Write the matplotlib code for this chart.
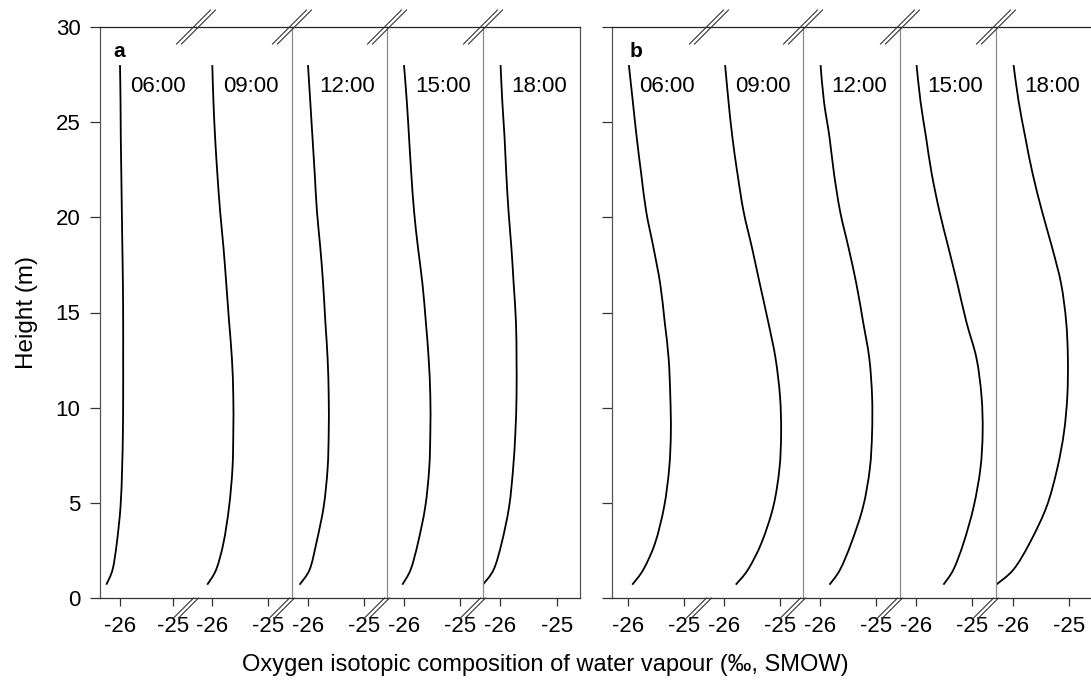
import matplotlib
matplotlib.use("Agg")
import matplotlib.pyplot as plt
import numpy as np
from matplotlib.lines import Line2D
from matplotlib.path import Path
from matplotlib.patches import PathPatch
from matplotlib.transforms import blended_transform_factory

plt.rcParams["font.family"] = ["Liberation Sans", "DejaVu Sans"]
plt.rcParams["axes.unicode_minus"] = False

# Heights (m) of the profile points
heights = [0.7, 1.5, 2.9, 4.8, 6.8, 8.7, 10.6, 12.6, 14.5, 16.5, 18.4, 20.3, 22.3, 24.2, 26.1, 28.0]
times = ["06:00", "09:00", "12:00", "15:00", "18:00"]

# Panel a: delta18O of vapour (permil) per time of day
a_0600 = [-26.26, -26.14, -26.06, -25.99, -25.96, -25.945, -25.94, -25.94, -25.94, -25.945, -25.955, -25.965, -25.975, -25.985, -25.99, -26.00]
a_0900 = [-26.09, -25.93, -25.80, -25.70, -25.64, -25.625, -25.625, -25.65, -25.70, -25.75, -25.80, -25.86, -25.91, -25.95, -25.98, -26.00]
a_1200 = [-26.15, -25.97, -25.85, -25.72, -25.65, -25.63, -25.63, -25.65, -25.69, -25.73, -25.78, -25.84, -25.88, -25.92, -25.96, -26.00]
a_1500 = [-26.03, -25.88, -25.75, -25.62, -25.55, -25.53, -25.53, -25.56, -25.61, -25.67, -25.75, -25.82, -25.87, -25.91, -25.95, -26.00]
a_1800 = [-26.30, -26.11, -25.97, -25.84, -25.77, -25.73, -25.71, -25.71, -25.72, -25.76, -25.80, -25.85, -25.89, -25.92, -25.96, -25.99]

# Panel b
b_0600 = [-25.93, -25.73, -25.52, -25.36, -25.27, -25.24, -25.25, -25.28, -25.35, -25.43, -25.55, -25.68, -25.77, -25.85, -25.92, -25.99]
b_0900 = [-25.79, -25.57, -25.33, -25.12, -25.01, -24.98, -25.00, -25.08, -25.21, -25.36, -25.50, -25.65, -25.76, -25.85, -25.92, -25.98]
b_1200 = [-25.83, -25.64, -25.44, -25.23, -25.11, -25.07, -25.07, -25.12, -25.23, -25.35, -25.49, -25.64, -25.75, -25.83, -25.93, -25.99]
b_1500 = [-25.51, -25.33, -25.15, -24.97, -24.85, -24.81, -24.83, -24.92, -25.10, -25.26, -25.42, -25.58, -25.72, -25.82, -25.92, -25.99]
b_1800 = [-26.30, -25.99, -25.70, -25.40, -25.21, -25.09, -25.03, -25.02, -25.05, -25.14, -25.30, -25.48, -25.65, -25.78, -25.90, -25.99]

panels = [
    ("a", [a_0600, a_0900, a_1200, a_1500, a_1800]),
    ("b", [b_0600, b_0900, b_1200, b_1500, b_1800]),
]

W, H = 1091, 691
fig = plt.figure(figsize=(W / 100, H / 100), dpi=100)

# pixel layout of each panel: sub-axes edges and where the -26 / -25 ticks sit
edges = {
    "a": [100, 196, 292, 387, 483, 580],
    "b": [612, 709, 803, 900, 996, 1092],
}
tick26 = {
    "a": [120.0, 212.3, 308.0, 404.0, 500.0],
    "b": [628.3, 724.0, 820.0, 916.0, 1013.0],
}
tick25 = {
    "a": [172.7, 268.3, 364.0, 460.0, 557.0],
    "b": [684.3, 780.0, 876.0, 972.0, 1069.0],
}
letter_x = {"a": 0.14, "b": 0.18}
top_px, bot_px = 27, 598

frame_col = "#555555"
inner_col = "#8a8a8a"


def fx(px):
    return px / W


def fy(py):
    return 1 - py / H


def smooth_profile(xs, ys):
    # smooth line through the points (Catmull-Rom segments as cubic Beziers)
    p = np.column_stack([xs, ys])
    verts, codes = [p[0]], [Path.MOVETO]
    n = len(p)
    for i in range(n - 1):
        p0 = p[i - 1] if i > 0 else p[i]
        p3 = p[i + 2] if i + 2 < n else p[i + 1]
        verts += [p[i] + (p[i + 1] - p0) / 6, p[i + 1] - (p3 - p[i]) / 6, p[i + 1]]
        codes += [Path.CURVE4] * 3
    return Path(verts, codes)


for name, series in panels:
    e = edges[name]
    for i in range(5):
        l, r = e[i], e[i + 1]
        ax = fig.add_axes([fx(l), fy(bot_px), (r - l) / W, (bot_px - top_px) / H])
        k = tick25[name][i] - tick26[name][i]
        ax.set_xlim(-26 + (l - tick26[name][i]) / k, -26 + (r - tick26[name][i]) / k)
        ax.set_ylim(0, 30)
        ax.patch.set_alpha(0)

        ax.add_patch(PathPatch(smooth_profile(series[i], heights), facecolor="none",
                               edgecolor="black", lw=1.3, capstyle="butt"))
        ax.text(-25.8, 26.6, times[i], ha="left", va="baseline", fontsize=16)

        for s in ax.spines.values():
            s.set_visible(False)
        ax.spines["top"].set_visible(True)
        ax.spines["top"].set_color("#222222")
        ax.spines["bottom"].set_visible(True)
        ax.spines["bottom"].set_color("#333333")
        for s in ("top", "bottom"):
            ax.spines[s].set_linewidth(0.9)
        if i == 0:
            ax.spines["left"].set_visible(True)
            ax.spines["left"].set_color(frame_col)
        elif i >= 2:
            ax.spines["left"].set_visible(True)
            ax.spines["left"].set_color(inner_col)
        if i == 4:
            ax.spines["right"].set_visible(True)
            ax.spines["right"].set_color(frame_col)
        ax.spines["left"].set_linewidth(0.9)
        ax.spines["right"].set_linewidth(0.9)

        ax.set_xticks([-26, -25])
        ax.set_xticklabels(["-26", "-25"])
        ax.tick_params(axis="x", direction="out", length=6, width=0.9,
                       color="#333333", labelsize=16, pad=7)
        if i == 0:
            ax.set_yticks(range(0, 31, 5))
            ax.tick_params(axis="y", direction="out", length=7, width=0.9,
                           color="#333333", labelsize=16, pad=7,
                           labelleft=(name == "a"))
            tr = blended_transform_factory(ax.transAxes, ax.transData)
            ax.text(letter_x[name], 28.4, name, transform=tr, ha="left",
                    va="baseline", fontsize=15, fontweight="bold")
        else:
            ax.set_yticks([])

    # axis-break marks at each joint between sub-axes
    for xb in e[1:5]:
        for dx in (-2.5, 2.5):
            fig.add_artist(Line2D([fx(xb - 17 + dx), fx(xb + 17 + dx)],
                                  [fy(top_px + 17), fy(top_px - 17)],
                                  transform=fig.transFigure, color="#333333", lw=0.8))
            fig.add_artist(Line2D([fx(xb - 20 + dx), fx(xb + dx)],
                                  [fy(bot_px + 20), fy(bot_px)],
                                  transform=fig.transFigure, color="#333333", lw=0.8))

fig.text(fx(27), fy(312), "Height (m)", rotation=90, ha="center", va="center", fontsize=17.5)
fig.text(fx(545), fy(665), "Oxygen isotopic composition of water vapour (‰, SMOW)",
         ha="center", va="center", fontsize=17)

fig.savefig("out.png", dpi=100)
